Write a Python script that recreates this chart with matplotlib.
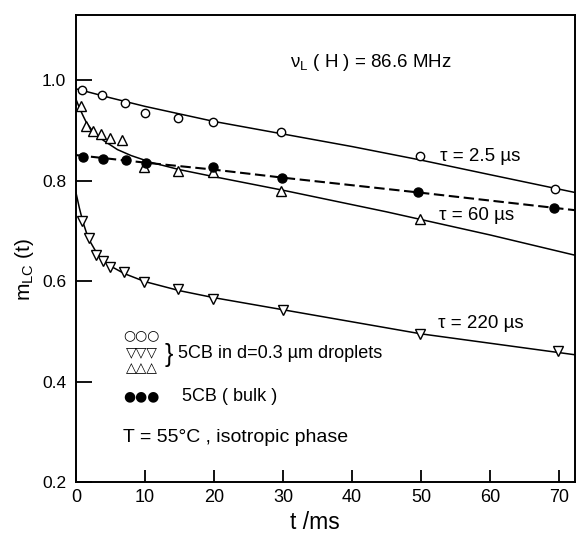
import matplotlib
matplotlib.use('Agg')
from matplotlib import pyplot as plt
from matplotlib import font_manager as fm

t_circ = [0.8, 3.8, 7.1, 10.0, 14.8, 19.9, 29.7, 49.8, 69.5]
m_circ = [0.980, 0.971, 0.954, 0.935, 0.925, 0.916, 0.896, 0.849, 0.784]

t_up = [0.7, 1.5, 2.5, 3.6, 4.9, 6.7, 9.8, 14.8, 19.8, 29.7, 49.8]
m_up = [0.949, 0.908, 0.899, 0.892, 0.886, 0.881, 0.828, 0.820, 0.818, 0.779, 0.724]

t_down = [0.8, 1.9, 2.9, 3.9, 4.9, 6.9, 9.9, 14.8, 19.9, 30.0, 49.9, 69.8]
m_down = [0.720, 0.685, 0.653, 0.641, 0.629, 0.618, 0.598, 0.585, 0.565, 0.542, 0.495, 0.460]

t_bulk = [1.0, 3.9, 7.2, 10.1, 19.9, 29.8, 49.6, 69.3]
m_bulk = [0.848, 0.843, 0.841, 0.835, 0.828, 0.806, 0.777, 0.745]

# fitted curves
fit_t_25 = [0, 5, 10, 20, 30, 40, 50, 60, 72.5]
fit_m_25 = [0.983, 0.965, 0.948, 0.918, 0.893, 0.868, 0.841, 0.812, 0.776]

fit_t_60 = [0, 0.5, 1, 1.5, 2.5, 4, 6, 8, 11, 15, 20, 30, 45, 60, 72.5]
fit_m_60 = [0.962, 0.945, 0.930, 0.916, 0.897, 0.880, 0.862, 0.850, 0.836,
            0.822, 0.808, 0.781, 0.738, 0.692, 0.651]

fit_t_220 = [0, 0.5, 1, 1.5, 2, 3, 4, 5, 7, 10, 15, 20, 30, 50, 72.5]
fit_m_220 = [0.776, 0.745, 0.718, 0.697, 0.680, 0.656, 0.640, 0.630, 0.615,
             0.599, 0.581, 0.567, 0.543, 0.495, 0.453]

fit_t_bulk = [0, 10, 20, 30, 50, 72.5]
fit_m_bulk = [0.851, 0.836, 0.822, 0.806, 0.776, 0.741]

xticks = [0, 10, 20, 30, 40, 50, 60, 70]
yticks = [0.2, 0.4, 0.6, 0.8, 1.0]

names = {f.name for f in fm.fontManager.ttflist}
fam = 'Liberation Sans' if 'Liberation Sans' in names else 'DejaVu Sans'
plt.rcParams['font.family'] = [fam, 'DejaVu Sans']
plt.rcParams['mathtext.default'] = 'regular'

fig = plt.figure(figsize=(5.77, 5.35), dpi=100)
ax = fig.add_axes([0.1317, 0.0991, 0.8657, 0.8729])

lw = 1.1
ax.plot(fit_t_25, fit_m_25, color='black', lw=lw)
ax.plot(fit_t_60, fit_m_60, color='black', lw=lw)
ax.plot(fit_t_220, fit_m_220, color='black', lw=lw)
ax.plot(fit_t_bulk, fit_m_bulk, color='black', lw=1.5, dashes=(5, 2.2))

mk = dict(linestyle='none', color='black', markerfacecolor='white', markeredgewidth=1.0)
ax.plot(t_circ, m_circ, marker='o', ms=6, **mk)
ax.plot(t_up, m_up, marker='^', ms=6.5, **mk)
ax.plot(t_down, m_down, marker='v', ms=6.5, **mk)
ax.plot(t_bulk, m_bulk, marker='o', ms=6.5, linestyle='none', color='black')

ax.set_xlim(0, 72.4)
ax.set_ylim(0.2, 1.13)
ax.set_xticks(xticks)
ax.set_xticklabels([str(v) for v in xticks])
ax.set_yticks(yticks)
ax.set_yticklabels(['%.1f' % v for v in yticks])
ax.tick_params(axis='x', direction='in', length=8.5, width=1.3, pad=5, labelsize=13)
ax.tick_params(axis='y', direction='in', length=11.5, width=1.3, pad=7, labelsize=12.5)
for s in ax.spines.values():
    s.set_linewidth(1.4)

ax.text(0.478, -0.086, 't /ms', transform=ax.transAxes, ha='center', va='center', fontsize=16.5)
ax.text(-0.104, 0.456, '$m_{LC}$ (t)', transform=ax.transAxes, rotation=90,
        ha='center', va='center', fontsize=15)

ax.text(31, 1.036, '$ν_L$ ( H ) = 86.6 MHz', fontsize=13.5, va='center')
ax.text(52.8, 0.849, 'τ = 2.5 µs', fontsize=13.5, va='center')
ax.text(52.6, 0.730, 'τ = 60 µs', fontsize=13.5, va='center')
ax.text(52.5, 0.515, 'τ = 220 µs', fontsize=13.5, va='center')

sym = dict(transform=ax.transAxes, ha='center', va='center', family='DejaVu Sans', fontsize=10)
ax.text(0.131, 0.315, '○○○', **sym)
ax.text(0.131, 0.278, '▽▽▽', **sym)
ax.text(0.131, 0.244, '△△△', **sym)
ax.text(0.132, 0.184, '●●●', **sym)
ax.text(0.186, 0.272, '}', transform=ax.transAxes, ha='center', va='center', fontsize=18)
ax.text(0.204, 0.276, '5CB in d=0.3 µm droplets', transform=ax.transAxes, va='center', fontsize=13)
ax.text(0.212, 0.184, '5CB ( bulk )', transform=ax.transAxes, va='center', fontsize=13)
ax.text(0.094, 0.096, 'T = 55°C , isotropic phase', transform=ax.transAxes, va='center', fontsize=14)

fig.savefig('out.png', dpi=100)
